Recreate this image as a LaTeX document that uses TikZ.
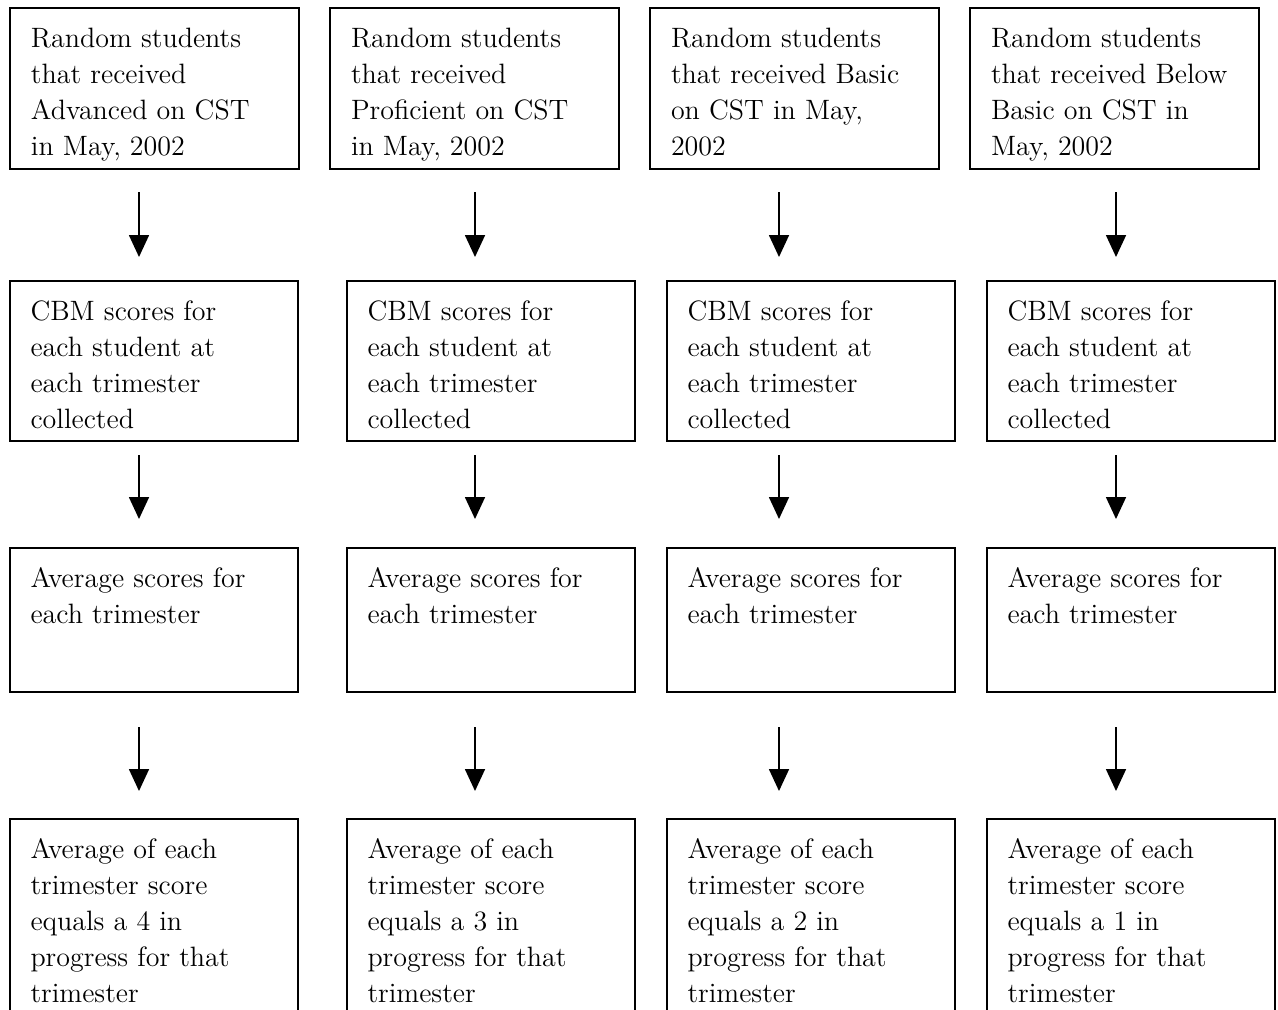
\documentclass[tikz,border=0pt]{standalone}
\usepackage{tikz}
\usetikzlibrary{arrows.meta}
\newcommand{\widthtop}{144.5pt}
\newcommand{\widthstage}{144pt}
\newcommand{\widthtext}{123.5pt}
\newcommand{\stagetext}[2]{\parbox[c][#1][t]{\widthtext}{\strut #2}}
\tikzset{
    common/.style={anchor=north west, draw, rectangle, line width=1pt, inner xsep=10.25pt, inner ysep=6.9pt, font=\fontsize{14}{18}\selectfont},
    source/.style={common, minimum width=\widthtop},
    stage/.style={common, minimum width=\widthstage},
    flow/.style={-{Triangle[width=10pt, length=11pt]}, line width=0.85pt}
}

\begin{document}
\begin{tikzpicture}[x=0.5pt, y=-0.5pt]
      \useasboundingbox (0,0) rectangle (1278,1009);
      \clip (0,0) rectangle (1278,1009);

      % CST results in May
      \node[source] (adv-cst) at (9,7) {\stagetext{66.7pt}{Random students\\that received\\Advanced on CST\\in May, 2002}};
      \node[source] (prof-cst) at (329,7) {\stagetext{66.7pt}{Random students\\that received\\Proficient on CST\\in May, 2002}};
      \node[source] (basic-cst) at (649,7) {\stagetext{66.7pt}{Random students\\that received Basic\\on CST in May,\\2002}};
      \node[source] (below-cst) at (969,7) {\stagetext{66.7pt}{Random students\\that received Below\\Basic on CST in\\May, 2002}};

      % CBM scores
      \node[stage] (adv-cbm) at (9,280) {\stagetext{66.2pt}{CBM scores for\\each student at\\each trimester\\collected}};
      \node[stage] (prof-cbm) at (346,280) {\stagetext{66.2pt}{CBM scores for\\each student at\\each trimester\\collected}};
      \node[stage] (basic-cbm) at (666,280) {\stagetext{66.2pt}{CBM scores for\\each student at\\each trimester\\collected}};
      \node[stage] (below-cbm) at (986,280) {\stagetext{66.2pt}{CBM scores for\\each student at\\each trimester\\collected}};

      % averages
      \node[stage] (adv-avg) at (9,547) {\stagetext{58.2pt}{Average scores for\\each trimester}};
      \node[stage] (prof-avg) at (346,547) {\stagetext{58.2pt}{Average scores for\\each trimester}};
      \node[stage] (basic-avg) at (666,547) {\stagetext{58.2pt}{Average scores for\\each trimester}};
      \node[stage] (below-avg) at (986,547) {\stagetext{58.2pt}{Average scores for\\each trimester}};

      % progress
      \node[stage] (adv-prog) at (9,818) {\stagetext{100pt}{Average of each\\trimester score\\equals a 4 in\\progress for that\\trimester}};
      \node[stage] (prof-prog) at (346,818) {\stagetext{100pt}{Average of each\\trimester score\\equals a 3 in\\progress for that\\trimester}};
      \node[stage] (basic-prog) at (666,818) {\stagetext{100pt}{Average of each\\trimester score\\equals a 2 in\\progress for that\\trimester}};
      \node[stage] (below-prog) at (986,818) {\stagetext{100pt}{Average of each\\trimester score\\equals a 1 in\\progress for that\\trimester}};

      \path
          (139,192) coordinate (adv-1) (139,257) coordinate (adv-2)
          (139,455) coordinate (adv-3) (139,519) coordinate (adv-4)
          (139,727) coordinate (adv-5) (139,791) coordinate (adv-6)
          (475,192) coordinate (prof-1) (475,257) coordinate (prof-2)
          (475,455) coordinate (prof-3) (475,519) coordinate (prof-4)
          (475,727) coordinate (prof-5) (475,791) coordinate (prof-6)
          (779,192) coordinate (basic-1) (779,257) coordinate (basic-2)
          (779,455) coordinate (basic-3) (779,519) coordinate (basic-4)
          (779,727) coordinate (basic-5) (779,791) coordinate (basic-6)
          (1116,192) coordinate (below-1) (1116,257) coordinate (below-2)
          (1116,455) coordinate (below-3) (1116,519) coordinate (below-4)
          (1116,727) coordinate (below-5) (1116,791) coordinate (below-6);

      \draw[flow] (adv-1) -- (adv-2);
      \draw[flow] (adv-3) -- (adv-4);
      \draw[flow] (adv-5) -- (adv-6);
      \draw[flow] (prof-1) -- (prof-2);
      \draw[flow] (prof-3) -- (prof-4);
      \draw[flow] (prof-5) -- (prof-6);
      \draw[flow] (basic-1) -- (basic-2);
      \draw[flow] (basic-3) -- (basic-4);
      \draw[flow] (basic-5) -- (basic-6);
      \draw[flow] (below-1) -- (below-2);
      \draw[flow] (below-3) -- (below-4);
      \draw[flow] (below-5) -- (below-6);
    \end{tikzpicture}
\end{document}
